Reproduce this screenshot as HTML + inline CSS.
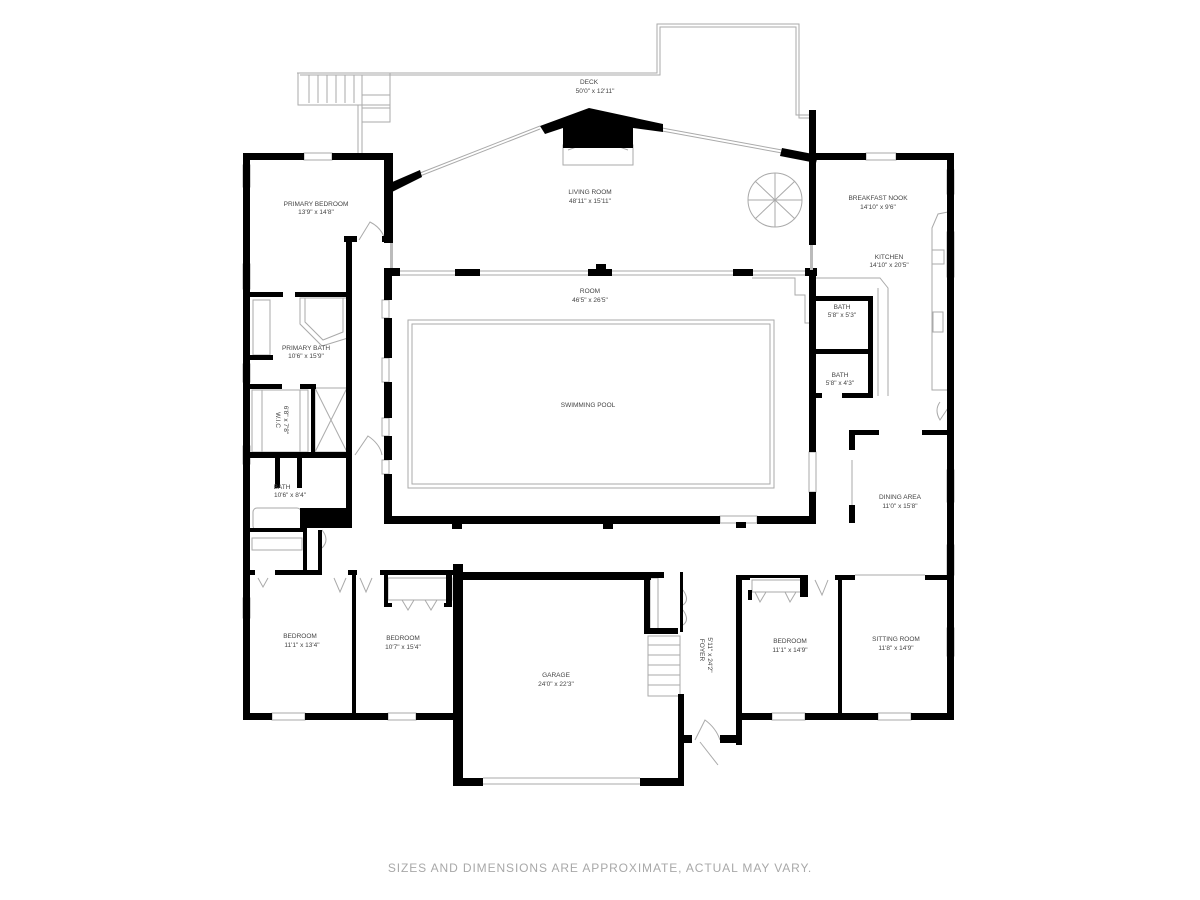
<!DOCTYPE html>
<html><head><meta charset="utf-8"><style>
html,body{margin:0;padding:0;background:#fff;}
svg{display:block}
text{font-family:"Liberation Sans",sans-serif;fill:#444;font-size:6.5px;text-anchor:middle}
</style></head><body>
<svg width="1200" height="900" viewBox="0 0 1200 900" xmlns="http://www.w3.org/2000/svg">
<rect width="1200" height="900" fill="#fff"/>
<g fill="none" stroke="#aaa" stroke-width="1">
<polyline points="297,73 657,73 657,24 799,24 799,118 814,118"/>
<polyline points="300,75 660,75 660,27 796,27 796,115 814,115"/>
<rect x="298" y="73" width="92" height="32"/>
<line x1="309" y1="75" x2="309" y2="103"/><line x1="318" y1="75" x2="318" y2="103"/><line x1="327" y1="75" x2="327" y2="103"/><line x1="336" y1="75" x2="336" y2="103"/><line x1="345" y1="75" x2="345" y2="103"/><line x1="354" y1="75" x2="354" y2="103"/><line x1="362" y1="75" x2="362" y2="155"/>
<rect x="362" y="95" width="28" height="27"/><line x1="362" y1="108" x2="390" y2="108"/>
<line x1="358" y1="105" x2="358" y2="155"/>
<line x1="420" y1="173" x2="540" y2="126"/><line x1="420" y1="176" x2="540" y2="129"/>
<line x1="662" y1="128" x2="782" y2="150"/><line x1="662" y1="131" x2="782" y2="153"/>
<rect x="408" y="320" width="366" height="168"/>
<rect x="412" y="324" width="358" height="160"/>
<line x1="392" y1="271" x2="805" y2="271"/><line x1="392" y1="275" x2="805" y2="275"/>
<polyline points="752,278 795,278 795,295 805,295 805,323 812,323"/>
<rect x="253" y="300" width="17" height="55"/>
<polygon points="305,298 343,298 343,332 323,340 305,322"/>
<polygon points="300,298 348,298 348,338 322,346 300,324"/>
<rect x="252" y="390" width="56" height="62"/>
<line x1="262" y1="390" x2="262" y2="452"/><line x1="300" y1="390" x2="300" y2="452"/>
<rect x="315" y="388" width="32" height="64"/><line x1="315" y1="388" x2="347" y2="452"/><line x1="347" y1="388" x2="315" y2="452"/>
<rect x="253" y="508" width="48" height="22" rx="4"/>
<rect x="252" y="538" width="50" height="12"/>
<rect x="388" y="578" width="64" height="22"/>
<rect x="752" y="580" width="50" height="12"/>
<rect x="650" y="578" width="8" height="52"/>
<rect x="648" y="636" width="32" height="60"/>
<line x1="648" y1="645" x2="680" y2="645"/><line x1="648" y1="655" x2="680" y2="655"/><line x1="648" y1="665" x2="680" y2="665"/><line x1="648" y1="675" x2="680" y2="675"/><line x1="648" y1="685" x2="680" y2="685"/>
<line x1="483" y1="778" x2="640" y2="778"/><line x1="483" y1="784" x2="640" y2="784"/>
<polyline points="813,278 880,278 888,288 888,396"/><line x1="878" y1="288" x2="878" y2="396"/>
<polyline points="948,212 938,214 932,228 932,390 948,390"/>
<rect x="933" y="312" width="10" height="20"/>
<rect x="932" y="250" width="12" height="14"/>
<circle cx="775" cy="200" r="27"/>
<line x1="775" y1="200" x2="748" y2="200"/><line x1="775" y1="200" x2="755" y2="181"/><line x1="775" y1="200" x2="775" y2="173"/><line x1="775" y1="200" x2="795" y2="181"/><line x1="775" y1="200" x2="802" y2="200"/><line x1="775" y1="200" x2="795" y2="219"/><line x1="775" y1="200" x2="775" y2="227"/><line x1="775" y1="200" x2="755" y2="219"/>
<line x1="852" y1="460" x2="852" y2="505"/><line x1="855" y1="575" x2="925" y2="575"/>
<rect x="563" y="145" width="70" height="20"/>
<path d="M568,150 Q598,138 628,150"/>
<path d="M359,240 L370,222 Q382,228 385,240"/>
<path d="M355,455 L368,436 Q380,444 382,455"/>
<path d="M695,740 L705,720 Q716,728 720,740"/>
<path d="M700,742 L718,765"/>
<path d="M950,405 L940,420 Q934,410 940,402"/>
<path d="M334,578 L340,592 L346,578"/><path d="M360,578 L366,592 L372,578"/>
<path d="M402,600 L408,610 L414,600"/><path d="M425,600 L431,610 L437,600"/>
<path d="M755,592 L760,602 L766,592"/><path d="M785,592 L790,602 L796,592"/><path d="M815,580 L822,595 L828,580"/>
<path d="M258,578 L263,587 L268,578"/>
<path d="M683,590 Q690,600 683,605"/><path d="M683,610 Q690,620 683,625"/>
<path d="M322,530 Q330,540 322,548"/>
</g>
<g fill="#fff" stroke="#aaa" stroke-width="1">
<rect x="304" y="153" width="28" height="7"/><rect x="866" y="153" width="30" height="7"/>
<rect x="243" y="165" width="7" height="22"/><rect x="243" y="264" width="7" height="25"/><rect x="243" y="364" width="7" height="18"/><rect x="243" y="446" width="7" height="18"/><rect x="243" y="598" width="7" height="20"/>
<rect x="947" y="170" width="7" height="24"/><rect x="947" y="232" width="7" height="45"/><rect x="947" y="470" width="7" height="32"/><rect x="947" y="545" width="7" height="30"/><rect x="947" y="628" width="7" height="28"/>
<rect x="272" y="713" width="33" height="7"/><rect x="388" y="713" width="28" height="7"/><rect x="772" y="713" width="33" height="7"/><rect x="878" y="713" width="33" height="7"/>
<rect x="720" y="516" width="37" height="7"/>
<rect x="809" y="452" width="7" height="40"/>
<rect x="382" y="300" width="7" height="18"/><rect x="382" y="358" width="7" height="24"/><rect x="382" y="418" width="7" height="18"/><rect x="382" y="460" width="7" height="14"/>
</g>
<g fill="#000">
<polygon points="540,126 589,108 663,124 663,132 633,128 633,148 563,148 563,128 545,134"/>
<polygon points="782,148 818,155 816,163 780,156"/>
<polygon points="390,183 420,170 422,177 392,192"/>
<rect x="243" y="153" width="61" height="7"/><rect x="332" y="153" width="60" height="7"/>
<rect x="243" y="153" width="7" height="567"/>
<rect x="384" y="153" width="9" height="90"/><rect x="344" y="236" width="13" height="6"/><rect x="382" y="236" width="11" height="6"/>
<rect x="346" y="236" width="6" height="280"/>
<rect x="390" y="243" width="3" height="25" fill="#bbb"/>
<rect x="243" y="292" width="40" height="5"/><rect x="295" y="292" width="57" height="5"/>
<rect x="246" y="355" width="27" height="5"/>
<rect x="246" y="384" width="36" height="5"/><rect x="300" y="384" width="16" height="5"/><rect x="311" y="384" width="4" height="70"/>
<rect x="246" y="452" width="106" height="6"/><rect x="275" y="458" width="5" height="30"/><rect x="297" y="458" width="5" height="30"/>
<rect x="300" y="508" width="52" height="20"/>
<rect x="246" y="528" width="58" height="4"/>
<rect x="303" y="528" width="4" height="45"/><rect x="318" y="530" width="4" height="45"/>
<rect x="384" y="268" width="16" height="8"/><rect x="455" y="269" width="25" height="7"/><rect x="588" y="269" width="24" height="7"/><rect x="596" y="264" width="10" height="6"/><rect x="733" y="269" width="20" height="7"/><rect x="805" y="268" width="12" height="8"/>
<rect x="384" y="272" width="8" height="28"/><rect x="384" y="318" width="8" height="40"/><rect x="384" y="382" width="8" height="36"/><rect x="384" y="436" width="8" height="24"/><rect x="384" y="474" width="8" height="50"/>
<rect x="809" y="272" width="7" height="180"/><rect x="809" y="492" width="7" height="32"/>
<rect x="384" y="516" width="336" height="8"/><rect x="757" y="516" width="59" height="8"/>
<rect x="452" y="522" width="10" height="7"/><rect x="603" y="522" width="10" height="7"/><rect x="736" y="522" width="10" height="6"/>
<rect x="809" y="110" width="7" height="135"/><rect x="810" y="245" width="3" height="25" fill="#bbb"/>
<rect x="816" y="153" width="50" height="7"/><rect x="896" y="153" width="58" height="7"/>
<rect x="947" y="153" width="7" height="567"/>
<rect x="947" y="194" width="7" height="38" fill="#000"/>
<rect x="812" y="296" width="61" height="5"/><rect x="868" y="296" width="5" height="100"/><rect x="812" y="349" width="61" height="5"/><rect x="812" y="393" width="10" height="5"/><rect x="842" y="393" width="31" height="5"/>
<rect x="849" y="430" width="6" height="20"/><rect x="849" y="505" width="6" height="18"/><rect x="849" y="430" width="30" height="5"/><rect x="922" y="430" width="30" height="5"/>
<rect x="243" y="570" width="12" height="5"/><rect x="275" y="570" width="45" height="5"/><rect x="348" y="570" width="9" height="5"/><rect x="380" y="570" width="80" height="5"/>
<rect x="384" y="575" width="4" height="30"/><rect x="446" y="575" width="6" height="30"/><rect x="384" y="603" width="8" height="4"/><rect x="444" y="603" width="8" height="4"/>
<rect x="352" y="570" width="4" height="150"/>
<rect x="243" y="713" width="29" height="7"/><rect x="305" y="713" width="83" height="7"/><rect x="416" y="713" width="44" height="7"/>
<rect x="453" y="564" width="10" height="222"/>
<rect x="453" y="572" width="198" height="8"/><rect x="644" y="572" width="20" height="6"/>
<rect x="644" y="572" width="6" height="60"/><rect x="644" y="628" width="34" height="6"/>
<rect x="678" y="694" width="6" height="92"/>
<rect x="453" y="778" width="30" height="8"/><rect x="640" y="778" width="44" height="8"/>
<rect x="680" y="572" width="3" height="60"/>
<rect x="682" y="735" width="10" height="8"/><rect x="720" y="735" width="22" height="8"/>
<rect x="736" y="575" width="6" height="170"/>
<rect x="736" y="575" width="14" height="5"/><rect x="750" y="575" width="58" height="3"/><rect x="800" y="575" width="8" height="22"/><rect x="835" y="575" width="20" height="5"/><rect x="925" y="575" width="29" height="5"/>
<rect x="748" y="590" width="4" height="10"/>
<rect x="838" y="575" width="4" height="145"/>
<rect x="736" y="713" width="36" height="7"/><rect x="805" y="713" width="73" height="7"/><rect x="911" y="713" width="43" height="7"/>
</g>
<text x="589" y="84">DECK</text><text x="595" y="93">50'0" x 12'11"</text>
<text x="590" y="194">LIVING ROOM</text><text x="590" y="203">48'11" x 15'11"</text>
<text x="316" y="206">PRIMARY BEDROOM</text><text x="316" y="214">13'9" x 14'8"</text>
<text x="878" y="200">BREAKFAST NOOK</text><text x="878" y="209">14'10" x 9'6"</text>
<text x="889" y="259">KITCHEN</text><text x="889" y="267">14'10" x 20'5"</text>
<text x="590" y="293">ROOM</text><text x="590" y="302">46'5" x 26'5"</text>
<text x="588" y="407">SWIMMING POOL</text>
<text x="842" y="309">BATH</text><text x="842" y="317">5'8" x 5'3"</text>
<text x="840" y="377">BATH</text><text x="840" y="385">5'8" x 4'3"</text>
<text x="306" y="350">PRIMARY BATH</text><text x="306" y="358">10'6" x 15'9"</text>
<text x="282" y="489">BATH</text><text x="290" y="497">10'6" x 8'4"</text>
<text transform="translate(276,420) rotate(90)">W.I.C</text><text transform="translate(284,420) rotate(90)">6'8" x 7'8"</text>
<text x="900" y="499">DINING AREA</text><text x="900" y="508">11'0" x 15'8"</text>
<text x="300" y="638">BEDROOM</text><text x="302" y="647">11'1" x 13'4"</text>
<text x="403" y="640">BEDROOM</text><text x="403" y="649">10'7" x 15'4"</text>
<text x="556" y="677">GARAGE</text><text x="556" y="686">24'0" x 22'3"</text>
<text x="790" y="643">BEDROOM</text><text x="790" y="652">11'1" x 14'9"</text>
<text x="896" y="641">SITTING ROOM</text><text x="896" y="650">11'8" x 14'9"</text>
<text transform="translate(700,650) rotate(90)">FOYER</text><text transform="translate(708,655) rotate(90)">5'11" x 24'2"</text>
<text x="600" y="872" style="font-size:12px;fill:#a8a8a8;letter-spacing:0.9px">SIZES AND DIMENSIONS ARE APPROXIMATE, ACTUAL MAY VARY.</text>
</svg>
</body></html>
